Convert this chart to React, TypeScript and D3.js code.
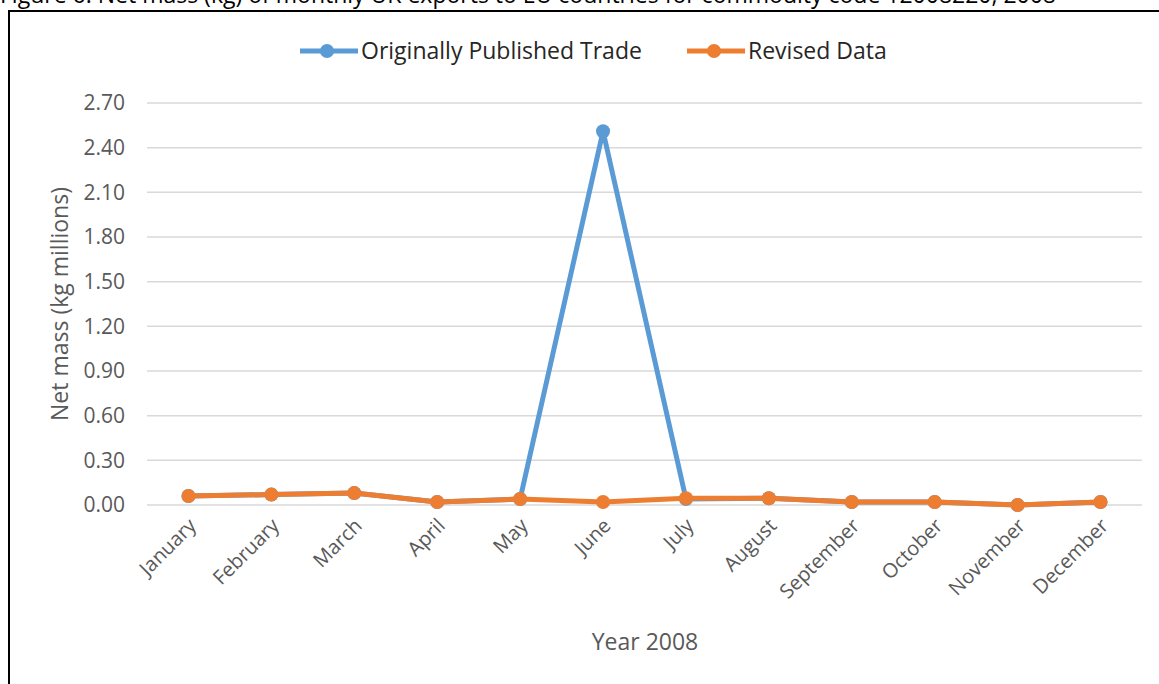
import React, { useEffect, useRef } from 'react';
import * as d3 from 'd3';

// Categorías y series
const months = [
  'January', 'February', 'March', 'April', 'May', 'June',
  'July', 'August', 'September', 'October', 'November', 'December',
];
const originalTrade = [0.06, 0.07, 0.08, 0.02, 0.04, 2.51, 0.04, 0.045, 0.02, 0.02, 0.0, 0.02];
const revisedData = [0.06, 0.07, 0.08, 0.02, 0.04, 0.02, 0.045, 0.045, 0.02, 0.02, 0.0, 0.02];
const yTicks = [0, 0.3, 0.6, 0.9, 1.2, 1.5, 1.8, 2.1, 2.4, 2.7];

const seriesList = [
  { label: 'Originally Published Trade', color: '#5B9BD5', values: originalTrade },
  { label: 'Revised Data', color: '#ED7D31', values: revisedData },
];

const App = () => {
  const chartRef = useRef<SVGSVGElement | null>(null);

  useEffect(() => {
    const W = 1159;
    const H = 684;
    const plot = { left: 147, right: 1142, top: 103, bottom: 505 };
    const font = '"Open Sans", sans-serif';
    const grey = '#595959';

    const svg = d3.select(chartRef.current);
    svg.selectAll('*').remove();
    svg.attr('width', W).attr('height', H).style('font-family', font);

    svg.append('rect').attr('width', W).attr('height', H).attr('fill', '#fff');

    // Título cortado arriba
    svg
      .append('text')
      .attr('x', 0)
      .attr('y', 3)
      .style('font-size', '23px')
      .attr('fill', '#000')
      .text('Figure 6: Net mass (kg) of monthly UK exports to EU countries for commodity code 12008220, 2008');

    // Marco
    svg
      .append('path')
      .attr('d', `M9,${H + 5} L9,11 L${W + 5},11`)
      .attr('fill', 'none')
      .attr('stroke', '#000')
      .attr('stroke-width', 2);

    const x = d3.scaleBand<string>().domain(months).range([plot.left, plot.right]);
    const cx = (m: string) => (x(m) as number) + x.bandwidth() / 2;
    const y = d3.scaleLinear().domain([0, 2.7]).range([plot.bottom, plot.top]);

    // Líneas horizontales
    svg
      .append('g')
      .selectAll('line')
      .data(yTicks)
      .enter()
      .append('line')
      .attr('x1', plot.left)
      .attr('x2', plot.right)
      .attr('y1', d => y(d))
      .attr('y2', d => y(d))
      .attr('stroke', '#D9D9D9')
      .attr('stroke-width', 1.5);

    // Etiquetas eje y
    svg
      .append('g')
      .selectAll('text')
      .data(yTicks)
      .enter()
      .append('text')
      .attr('x', 125)
      .attr('y', d => y(d))
      .attr('dy', '0.35em')
      .attr('text-anchor', 'end')
      .attr('fill', grey)
      .style('font-size', '21px')
      .text(d => d3.format('.2f')(d));

    // Etiquetas eje x
    svg
      .append('g')
      .selectAll('text')
      .data(months)
      .enter()
      .append('text')
      .attr('transform', d => `translate(${cx(d) + 9},${plot.bottom + 22}) rotate(-45)`)
      .attr('text-anchor', 'end')
      .attr('fill', grey)
      .style('font-size', '20px')
      .text(d => d);

    // Títulos de ejes
    svg
      .append('text')
      .attr('transform', `translate(68,${(plot.top + plot.bottom) / 2}) rotate(-90)`)
      .attr('text-anchor', 'middle')
      .attr('fill', grey)
      .style('font-size', '23px')
      .text('Net mass (kg millions)');

    svg
      .append('text')
      .attr('x', 645)
      .attr('y', 650)
      .attr('text-anchor', 'middle')
      .attr('fill', grey)
      .style('font-size', '23px')
      .text('Year 2008');

    // Series
    const line = d3
      .line<number>()
      .x((d, i) => cx(months[i]))
      .y(d => y(d));

    seriesList.forEach(s => {
      const g = svg.append('g');
      g.append('path')
        .datum(s.values)
        .attr('fill', 'none')
        .attr('stroke', s.color)
        .attr('stroke-width', 5)
        .attr('stroke-linejoin', 'round')
        .attr('d', line);
      g.selectAll('circle')
        .data(s.values)
        .enter()
        .append('circle')
        .attr('cx', (d, i) => cx(months[i]))
        .attr('cy', d => y(d))
        .attr('r', 7)
        .attr('fill', s.color);
    });

    // Leyenda
    const legendPos = [300, 687];
    seriesList.forEach((s, i) => {
      const g = svg.append('g').attr('transform', `translate(${legendPos[i]},51)`);
      g.append('line')
        .attr('x1', 0)
        .attr('x2', 58)
        .attr('stroke', s.color)
        .attr('stroke-width', 5);
      g.append('circle').attr('cx', 27).attr('r', 7).attr('fill', s.color);
      g.append('text')
        .attr('x', 61)
        .attr('dy', '0.35em')
        .attr('fill', '#262626')
        .style('font-size', '23px')
        .text(s.label);
    });
  }, []);

  return (
    <svg
      ref={chartRef}
      style={{ position: 'absolute', left: 0, top: 0, display: 'block' }}
    />
  );
};

export default App;
